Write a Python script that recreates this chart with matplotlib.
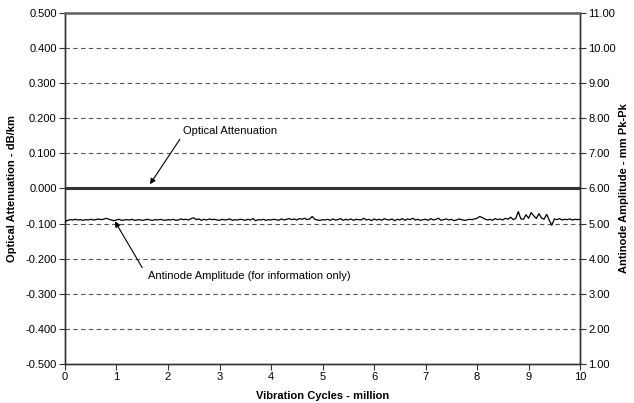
import numpy as np
import matplotlib.pyplot as plt

plt.rcParams['font.family'] = ['Liberation Sans', 'DejaVu Sans']

# -----------------------------
# Data
# -----------------------------
cycles_att = [0, 1, 2, 3, 4, 5, 6, 7, 8, 9, 10]
attenuation = [0.000, 0.000, 0.000, 0.000, 0.000, 0.000, 0.000, 0.000, 0.000, 0.000, 0.000]

cycles_amp = [i * 0.05 for i in range(201)]
amplitude = [
    5.05, 5.09, 5.11, 5.10, 5.12, 5.10, 5.11, 5.09, 5.11, 5.10,
    5.12, 5.10, 5.11, 5.13, 5.11, 5.12, 5.15, 5.12, 5.10, 5.08,
    5.10, 5.12, 5.09, 5.10, 5.11, 5.10, 5.12, 5.09, 5.10, 5.11,
    5.09, 5.10, 5.12, 5.10, 5.09, 5.11, 5.10, 5.12, 5.10, 5.09,
    5.11, 5.10, 5.12, 5.09, 5.10, 5.13, 5.11, 5.12, 5.10, 5.14,
    5.16, 5.11, 5.13, 5.09, 5.12, 5.10, 5.13, 5.11, 5.12, 5.10,
    5.09, 5.12, 5.10, 5.11, 5.13, 5.09, 5.11, 5.10, 5.12, 5.11,
    5.09, 5.12, 5.10, 5.14, 5.08, 5.11, 5.10, 5.12, 5.09, 5.11,
    5.10, 5.12, 5.11, 5.09, 5.13, 5.10, 5.12, 5.14, 5.11, 5.13,
    5.10, 5.14, 5.12, 5.15, 5.11, 5.13, 5.20, 5.12, 5.10, 5.09,
    5.11, 5.10, 5.12, 5.09, 5.13, 5.10, 5.11, 5.14, 5.09, 5.12,
    5.10, 5.13, 5.09, 5.12, 5.11, 5.10, 5.15, 5.10, 5.12, 5.08,
    5.13, 5.10, 5.12, 5.09, 5.14, 5.11, 5.10, 5.13, 5.08, 5.12,
    5.10, 5.14, 5.09, 5.13, 5.11, 5.15, 5.10, 5.12, 5.09, 5.11,
    5.12, 5.09, 5.14, 5.10, 5.12, 5.15, 5.09, 5.11, 5.13, 5.10,
    5.12, 5.08, 5.10, 5.13, 5.11, 5.09, 5.10, 5.12, 5.11, 5.13,
    5.15, 5.20, 5.17, 5.13, 5.10, 5.12, 5.09, 5.14, 5.11, 5.13,
    5.10, 5.15, 5.12, 5.18, 5.11, 5.14, 5.34, 5.13, 5.12, 5.25,
    5.15, 5.31, 5.22, 5.14, 5.28, 5.16, 5.12, 5.26, 5.10, 4.95,
    5.13, 5.11, 5.14, 5.10, 5.12, 5.11, 5.13, 5.10, 5.12, 5.11,
    5.12,
]

left_ticks = [0.5, 0.4, 0.3, 0.2, 0.1, 0.0, -0.1, -0.2, -0.3, -0.4, -0.5]
right_ticks = [11, 10, 9, 8, 7, 6, 5, 4, 3, 2, 1]
x_ticks = [0, 1, 2, 3, 4, 5, 6, 7, 8, 9, 10]

# -----------------------------
# Figure
# -----------------------------
fig = plt.figure(figsize=(6.34, 4.03), dpi=100)
ax = fig.add_axes([0.1025, 0.097, 0.8125, 0.871])
ax2 = ax.twinx()

ax.set_xlim(0, 10)
ax.set_ylim(-0.5, 0.5)
ax2.set_ylim(1, 11)

# dashed gridlines
for t in left_ticks[1:-1]:
    ax.axhline(t, color="#555555", lw=0.8, ls=(0, (4, 3)), zorder=1)

ax.plot(cycles_att, attenuation, color="#333333", lw=2.2, zorder=3)
ax2.plot(cycles_amp, amplitude, color="black", lw=0.9, zorder=3)

ax.set_xticks(x_ticks)
ax.set_yticks(left_ticks)
ax.set_yticklabels([f"{t:.3f}" for t in left_ticks])
ax2.set_yticks(right_ticks)
ax2.set_yticklabels([f"{t:.2f}" for t in right_ticks])

for a in (ax, ax2):
    a.tick_params(direction="out", length=4, width=0.8, color="#333333",
                  labelsize=8, pad=2)
    for s in a.spines.values():
        s.set_color("#333333")
        s.set_linewidth(1.0)
ax2.spines["top"].set_color("#666666")
ax2.spines["top"].set_linewidth(1.8)

ax.set_xlabel("Vibration Cycles - million", fontsize=8, fontweight="bold", labelpad=6)
ax.set_ylabel("Optical Attenuation - dB/km", fontsize=8, fontweight="bold", labelpad=6)
ax2.set_ylabel("Antinode Amplitude - mm Pk-Pk", fontsize=8, fontweight="bold", labelpad=2)

# annotations
arrow = dict(arrowstyle="-|>", color="black", lw=0.8, mutation_scale=8,
             shrinkA=0, shrinkB=0)
ax.annotate("", xy=(1.65, 0.012), xytext=(2.23, 0.14), arrowprops=arrow, zorder=4)
ax.text(2.29, 0.163, "Optical Attenuation", fontsize=8, va="center", ha="left")

ax.annotate("", xy=(0.97, -0.094), xytext=(1.5, -0.226), arrowprops=arrow, zorder=4)
ax.text(1.61, -0.249, "Antinode Amplitude (for information only)", fontsize=8,
        va="center", ha="left")

plt.savefig("out.png", dpi=100)
